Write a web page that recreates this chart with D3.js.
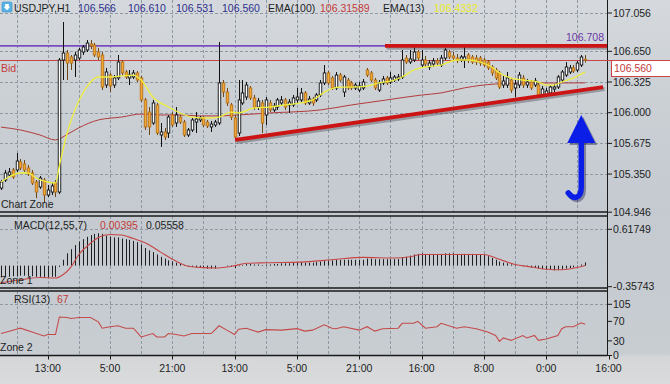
<!DOCTYPE html>
<html><head><meta charset="utf-8">
<script src="https://cdn.jsdelivr.net/npm/d3@7/dist/d3.min.js"></script>
<style>
html,body{margin:0;padding:0;width:670px;height:384px;overflow:hidden;background:#cfd3d7;}
svg{display:block;}
text{font-family:"Liberation Sans",Arial,sans-serif;font-size:10.5px;}
</style></head><body>
<svg id="c" width="670" height="384"></svg>
<script>
// ---------------- DATA ----------------
const opens = [
105.202,105.287,105.340,105.393,105.393,105.478,105.457,105.414,105.361,105.266,
105.213,105.287,105.128,105.160,105.255,105.160,106.558,106.632,106.590,106.558,
106.579,106.643,106.664,106.728,106.717,106.643,106.611,106.293,106.399,106.293,
106.368,106.537,106.431,106.368,106.378,106.421,106.368,106.135,106.007,105.891,
106.082,105.764,105.796,105.785,105.976,105.891,105.954,105.901,105.764,105.817,
105.901,105.923,105.944,105.901,105.849,105.870,105.891,106.315,106.219,106.082,
105.944,105.785,106.103,106.166,106.262,106.156,106.060,106.103,105.976,106.103,
106.029,106.060,106.103,106.135,106.082,106.082,106.135,106.135,106.209,106.103,
106.145,106.135,106.188,106.315,106.421,106.368,106.262,106.399,106.219,106.346,
106.315,106.262,106.240,106.262,106.452,106.421,106.346,106.240,106.315,106.368,
106.325,106.346,106.357,106.378,106.579,106.537,106.558,106.643,106.505,106.558,
106.484,106.516,106.548,106.505,106.579,106.643,106.601,106.579,106.558,106.558,
106.611,106.590,106.579,106.579,106.558,106.537,106.484,106.452,106.421,106.293,
106.293,106.346,106.262,106.293,106.368,106.293,106.325,106.293,106.293,106.188,
106.188,106.209,106.251,106.272,106.346,106.399,106.431,106.474,106.452,106.505,
106.566];
const highs = [
105.287,105.393,105.414,105.414,105.573,105.510,105.499,105.446,105.393,105.287,
105.329,105.308,105.234,105.266,105.287,106.579,106.961,106.664,106.611,106.643,
106.685,106.717,106.770,106.770,106.738,106.685,106.643,106.474,106.421,106.399,
106.611,106.558,106.452,106.452,106.452,106.442,106.389,106.156,106.060,106.135,
106.103,105.891,105.838,105.976,106.007,106.060,105.976,105.923,105.838,105.944,
106.007,105.965,105.965,105.923,105.912,105.923,106.749,106.346,106.262,106.103,
105.976,106.346,106.346,106.325,106.283,106.188,106.156,106.135,106.166,106.135,
106.103,106.156,106.177,106.156,106.145,106.188,106.262,106.262,106.230,106.177,
106.166,106.209,106.346,106.505,106.442,106.389,106.431,106.421,106.399,106.368,
106.336,106.315,106.325,106.357,106.474,106.442,106.368,106.346,106.389,106.389,
106.431,106.399,106.410,106.664,106.611,106.664,106.696,106.664,106.664,106.601,
106.558,106.579,106.579,106.611,106.685,106.664,106.643,106.622,106.611,106.728,
106.632,106.611,106.611,106.601,106.579,106.558,106.505,106.474,106.442,106.389,
106.431,106.368,106.346,106.431,106.399,106.357,106.346,106.368,106.315,106.283,
106.262,106.293,106.304,106.399,106.452,106.537,106.505,106.505,106.548,106.611,
106.610];
const lows = [
105.181,105.266,105.319,105.298,105.372,105.393,105.372,105.329,105.234,105.096,
105.192,105.043,105.107,105.128,105.107,105.139,106.346,106.346,106.452,106.378,
106.558,106.611,106.643,106.675,106.590,106.558,106.240,106.262,106.219,106.262,
106.346,106.399,106.357,106.293,106.357,106.325,106.113,105.817,105.764,105.870,
105.764,105.637,105.711,105.732,105.849,105.849,105.880,105.743,105.743,105.796,
105.785,105.901,105.849,105.838,105.796,105.849,105.870,106.166,106.071,105.923,
105.711,105.753,106.082,106.135,106.135,106.029,106.029,105.785,105.870,106.007,
106.007,106.029,106.071,106.029,105.997,106.060,106.103,106.113,106.082,106.082,
106.071,106.113,106.166,106.293,106.293,106.240,106.240,106.325,106.166,106.240,
106.240,106.240,106.219,106.240,106.378,106.325,106.240,106.219,106.293,106.293,
106.304,106.325,106.336,106.357,106.516,106.516,106.537,106.558,106.484,106.484,
106.452,106.484,106.495,106.484,106.558,106.569,106.548,106.526,106.537,106.474,
106.526,106.516,106.505,106.495,106.484,106.452,106.389,106.346,106.251,106.262,
106.262,106.209,106.166,106.262,106.262,106.262,106.240,106.272,106.166,106.166,
106.166,106.188,106.219,106.251,106.325,106.378,106.410,106.421,106.431,106.484,
106.531];
const closes = [
105.266,105.361,105.372,105.319,105.488,105.414,105.393,105.351,105.255,105.160,
105.308,105.128,105.181,105.224,105.160,106.558,106.632,106.526,106.526,106.611,
106.664,106.696,106.738,106.707,106.611,106.590,106.272,106.431,106.283,106.368,
106.537,106.421,106.378,106.399,106.421,106.346,106.135,105.849,105.849,106.103,
105.785,105.796,105.743,105.954,105.870,105.976,105.901,105.764,105.817,105.923,
105.933,105.944,105.870,105.859,105.880,105.901,106.315,106.219,106.103,105.954,
105.743,106.135,106.209,106.293,106.156,106.060,106.124,105.891,106.135,106.029,
106.071,106.135,106.135,106.060,106.113,106.156,106.166,106.209,106.103,106.145,
106.103,106.188,106.315,106.421,106.315,106.262,106.399,106.346,106.378,106.262,
106.262,106.293,106.283,106.325,106.399,106.346,106.262,106.315,106.357,106.315,
106.368,106.378,106.378,106.558,106.537,106.569,106.643,106.579,106.558,106.516,
106.526,106.548,106.526,106.579,106.664,106.590,106.579,106.558,106.590,106.590,
106.558,106.537,106.537,106.526,106.505,106.474,106.421,106.368,106.272,106.336,
106.368,106.240,106.304,106.399,106.293,106.325,106.262,106.336,106.188,106.251,
106.230,106.272,106.272,106.378,106.431,106.484,106.474,106.442,106.526,106.590,
106.560];

const ema13Bars = [0,2,5,7,9,12,14,15,17,19,22,25,28,31,34,36,39,43,46,49,53,56,59,61,65,69,73,77,80,84,87,90,94,97,101,103,106,109,113,117,120,123,126,128,131,134,138,140,142,144,147,150];
const ema13Vals = [105.266,105.319,105.361,105.361,105.308,105.266,105.255,105.440,105.785,106.030,106.271,106.378,106.378,106.389,106.399,106.346,106.166,106.060,105.997,105.954,105.944,105.954,106.007,105.997,106.050,106.060,106.082,106.103,106.135,106.240,106.271,106.271,106.282,106.315,106.346,106.378,106.452,106.484,106.505,106.558,106.558,106.537,106.484,106.420,106.367,106.346,106.325,106.293,106.293,106.325,106.367,106.433];

const ema100Bars = [0,5,10,14,17,20,25,31,36,41,46,51,56,61,69,82,90,99,108,113,119,127,136,144,150];
const ema100Vals = [105.847,105.817,105.764,105.711,105.770,105.840,105.923,105.954,105.986,105.976,105.976,105.966,105.966,105.976,105.997,106.029,106.082,106.135,106.187,106.209,106.263,106.304,106.315,106.315,106.316];

const macdHist = [
-0.20,-0.19,-0.19,-0.18,-0.18,-0.17,-0.17,-0.18,-0.18,-0.19,
-0.19,-0.20,-0.20,-0.19,-0.19,-0.02,0.10,0.21,0.28,0.35,
0.41,0.45,0.49,0.52,0.54,0.55,0.54,0.51,0.49,0.48,
0.48,0.46,0.45,0.44,0.42,0.40,0.36,0.30,0.26,0.23,
0.19,0.15,0.12,0.09,0.07,0.05,0.03,0.01,-0.01,-0.02,
-0.03,-0.03,-0.04,-0.05,-0.05,-0.05,0.00,0.00,-0.01,-0.02,
-0.04,-0.01,0.01,0.03,0.03,0.02,0.02,0.01,0.02,0.02,
0.03,0.03,0.04,0.04,0.04,0.05,0.05,0.06,0.05,0.05,
0.05,0.06,0.07,0.09,0.09,0.09,0.10,0.10,0.10,0.10,
0.10,0.10,0.10,0.10,0.12,0.12,0.11,0.11,0.11,0.11,
0.11,0.11,0.11,0.14,0.15,0.17,0.19,0.20,0.21,0.20,
0.20,0.20,0.20,0.20,0.21,0.21,0.21,0.20,0.20,0.20,
0.20,0.20,0.19,0.19,0.18,0.16,0.13,0.10,0.07,0.05,
0.04,0.02,0.01,0.00,-0.01,-0.02,-0.03,-0.04,-0.05,-0.06,
-0.07,-0.07,-0.08,-0.07,-0.06,-0.05,-0.04,-0.03,-0.01,0.02,
0.056];
const signalBars = [0,5,10,14,16,18,20,23,25,28,31,34,37,41,44,48,51,55,60,63,68,77,85,93,101,105,108,116,124,127,132,136,140,144,148,150];
const signalVals = [-0.29,-0.24,-0.20,-0.21,-0.15,-0.02,0.19,0.38,0.48,0.53,0.52,0.46,0.39,0.23,0.11,-0.01,-0.03,-0.04,0.00,0.04,0.05,0.06,0.10,0.14,0.13,0.15,0.19,0.19,0.19,0.13,0.02,-0.02,-0.06,-0.07,-0.03,0.004];

const rsiBars = [0,1,4,5,8,11,12,14,15,17,18,20,23,25,26,28,30,32,34,36,39,40,42,43,45,47,49,54,56,58,60,61,63,66,68,72,76,78,80,83,85,86,88,92,94,96,98,102,103,106,107,109,112,113,117,119,122,125,127,128,129,131,134,135,137,138,140,143,144,145,147,149,150];
const rsiVals = [45,47,54,56,48,40,43,43,79,78,76,78,78,69,56,59,61,56,56,38,45,38,38,45,43,40,45,45,61,52,43,54,56,48,53,52,55,50,52,63,56,55,59,52,59,50,55,56,66,66,70,56,59,66,56,59,55,48,41,29,36,31,41,36,41,31,34,41,55,59,59,67,64];

const timeTickBars = [12,28,44,60,76,92,108,124,140,156];
const timeTickLabels = ["13:00","5:00","21:00","13:00","5:00","21:00","16:00","8:00","0:00","16:00"];
const priceTicks = [107.056,106.650,106.325,106.000,105.675,105.350,104.946];
const macdTicks = [0.61749,-0.35743];
const rsiTicks = [105,70,30,0];

const bidPrice = 106.560;
const levelPrice = 106.708;
const resistanceBars = [98.6,156];
const supportPts = [[60.1,105.711],[154.6,106.272]];
const arrowTip = [149,105.976];

const headerItems = [
 ["USDJPY,H1","#1e1e1e",14],["106.566","#2d2f8c",78],["106.610","#2d2f8c",128],["106.531","#2d2f8c",176],["106.560","#2d2f8c",222],
 ["EMA(100)","#1e1e1e",268],["106.31589","#c43a3a",320],["EMA(13)","#1e1e1e",383],["106.4332","#eaea1c",434]];

// ---------------- DRAW ----------------
const svg = d3.select("#c");
const defs = svg.append("defs");
const g0 = defs.append("linearGradient").attr("id","bg").attr("x1",0).attr("y1",0).attr("x2",0).attr("y2",1);
[[0,"#d5d9dd"],[0.25,"#cbd0d5"],[0.55,"#c4cad0"],[0.92,"#c8cdd2"],[0.93,"#d4d6d8"],[1,"#d9dbdc"]]
  .forEach(s=>g0.append("stop").attr("offset",s[0]).attr("stop-color",s[1]));
svg.append("rect").attr("width",670).attr("height",384).attr("fill","url(#bg)");

defs.append("clipPath").attr("id","mainClip").append("rect").attr("x",0).attr("y",0).attr("width",607).attr("height",212);

const AX = 607;
const xS = d3.scaleLinear().domain([0,156]).range([0.97,608.5]);
const yP = d3.scaleLinear().domain([104.946,107.056]).range([212.2,13.0]);
const yM = d3.scaleLinear().domain([-0.35743,0.61749]).range([286.7,229.3]);
const yR = d3.scaleLinear().domain([0,105]).range([355.5,304.3]);
const cx = i => Math.round(xS(i)) + 0.5;

const panels = [{t:0,b:212},{t:216,b:288},{t:291,b:355.5}];
const gridCol = "#8e99a4";
const grid = svg.append("g").attr("stroke",gridCol).attr("stroke-width",1).attr("stroke-dasharray","3,2");
const gridBars = d3.range(4,156,8);
panels.forEach(p=>{
  grid.selectAll(null).data(gridBars).enter().append("line")
   .attr("x1",d=>cx(d)).attr("x2",d=>cx(d)).attr("y1",p.t).attr("y2",p.b);
});
grid.selectAll(null).data(priceTicks.slice(0,6)).enter().append("line")
  .attr("x1",0).attr("x2",AX).attr("y1",d=>Math.round(yP(d))+0.5).attr("y2",d=>Math.round(yP(d))+0.5);
grid.append("line").attr("x1",0).attr("x2",AX).attr("y1",Math.round(yM(macdTicks[0]))+0.5).attr("y2",Math.round(yM(macdTicks[0]))+0.5);
grid.append("line").attr("x1",0).attr("x2",AX).attr("y1",Math.round(yR(105))+0.5).attr("y2",Math.round(yR(105))+0.5);

// main panel content
const main = svg.append("g").attr("clip-path","url(#mainClip)");
main.append("line").attr("x1",0).attr("x2",AX).attr("y1",yP(levelPrice)).attr("y2",yP(levelPrice))
  .attr("stroke","#7a4cc0").attr("stroke-width",1.6);
main.append("line").attr("x1",0).attr("x2",AX).attr("y1",Math.round(yP(bidPrice))+0.5).attr("y2",Math.round(yP(bidPrice))+0.5)
  .attr("stroke","#c94444").attr("stroke-width",1);

const lineGen = (ys)=> d3.line().x(d=>xS(d[0])).y(d=>ys(d[1])).curve(d3.curveMonotoneX);
main.append("path").datum(ema100Bars.map((b,i)=>[b,ema100Vals[i]])).attr("d",lineGen(yP))
  .attr("fill","none").attr("stroke","#b23c3c").attr("stroke-width",1);

const bars = d3.range(opens.length);
const cg = main.append("g");
cg.selectAll("line.w").data(bars).enter().append("line")
  .attr("x1",cx).attr("x2",cx).attr("y1",i=>yP(highs[i])).attr("y2",i=>yP(lows[i]))
  .attr("stroke",i=>closes[i]>=opens[i]?"#111":"#6e4614").attr("stroke-width",1);
cg.selectAll("rect").data(bars).enter().append("rect")
  .attr("x",i=>cx(i)-1.25).attr("width",2.5)
  .attr("y",i=>yP(Math.max(opens[i],closes[i])))
  .attr("height",i=>Math.max(1,Math.abs(yP(opens[i])-yP(closes[i]))))
  .attr("fill",i=>closes[i]>=opens[i]?"#ffffff":"#f2a733")
  .attr("stroke",i=>closes[i]>=opens[i]?"#111":"#b8731a").attr("stroke-width",0.9);

main.append("path").datum(ema13Bars.map((b,i)=>[b,ema13Vals[i]])).attr("d",lineGen(yP))
  .attr("fill","none").attr("stroke","#eeee3c").attr("stroke-width",1.3);

// annotations: trend lines with shadow
const annot = main.append("g");
const thick = (x1,y1,x2,y2)=>{
  annot.append("line").attr("x1",x1+1.5).attr("y1",y1+2).attr("x2",x2+1.5).attr("y2",y2+2)
    .attr("stroke","rgba(50,50,60,0.35)").attr("stroke-width",4);
  annot.append("line").attr("x1",x1).attr("y1",y1).attr("x2",x2).attr("y2",y2)
    .attr("stroke","#cc1414").attr("stroke-width",3.8);
};
thick(xS(resistanceBars[0]),yP(levelPrice),xS(resistanceBars[1]),yP(levelPrice));
thick(xS(supportPts[0][0]),yP(supportPts[0][1]),xS(supportPts[1][0]),yP(supportPts[1][1]));

// blue arrow
const tx = xS(arrowTip[0]), ty = yP(arrowTip[1]);
const shaft = `M${tx},${ty+26} L${tx},${ty+72} C${tx},${ty+84} ${tx-8},${ty+85} ${tx-13},${ty+78}`;
const head = `M${tx},${ty} L${tx-14},${ty+28} L${tx+14},${ty+28} Z`;
[[2,2,"rgba(20,20,70,0.4)"],[0,0,"#0a1ee8"]].forEach(s=>{
  const a = annot.append("g").attr("transform",`translate(${s[0]},${s[1]})`);
  a.append("path").attr("d",shaft).attr("fill","none").attr("stroke",s[2]).attr("stroke-width",5.5).attr("stroke-linecap","round");
  a.append("path").attr("d",head).attr("fill",s[2]);
});

// level label
svg.append("text").attr("x",604).attr("y",41).attr("text-anchor","end").attr("fill","#6a36a6").text(levelPrice.toFixed(3));
svg.append("text").attr("x",1).attr("y",72).attr("fill","#c43a3a").text("Bid");
svg.append("text").attr("x",1).attr("y",208).attr("fill","#1e1e1e").text("Chart Zone");

// MACD panel
const mg = svg.append("g");
mg.selectAll("line").data(bars).enter().append("line")
  .attr("x1",cx).attr("x2",cx).attr("y1",yM(0)).attr("y2",i=>yM(macdHist[i]))
  .attr("stroke","#1e1e1e").attr("stroke-width",1);
mg.append("path").datum(signalBars.map((b,i)=>[b,signalVals[i]])).attr("d",lineGen(yM))
  .attr("fill","none").attr("stroke","#c84646").attr("stroke-width",1.1);

// RSI panel
svg.append("path").datum(rsiBars.map((b,i)=>[b,rsiVals[i]]))
  .attr("d",d3.line().x(d=>xS(d[0])).y(d=>yR(d[1])))
  .attr("fill","none").attr("stroke","#c44a4a").attr("stroke-width",1.1);

// panel frames & right axis
const fr = svg.append("g").attr("stroke","#1a1a1a");
[212,216,288,291,355.5].forEach(y=>fr.append("line").attr("x1",0).attr("x2",AX).attr("y1",y).attr("y2",y).attr("stroke-width",1.6));
fr.append("line").attr("x1",AX+0.5).attr("x2",AX+0.5).attr("y1",0).attr("y2",356).attr("stroke-width",1);

// right axes
const axText = (vals, sc, fmt)=>{
  vals.forEach(v=>{
    const y = sc(v);
    svg.append("line").attr("x1",AX).attr("x2",AX+5).attr("y1",y).attr("y2",y).attr("stroke","#1a1a1a");
    svg.append("text").attr("x",AX+6).attr("y",y).attr("dy","0.36em").attr("fill","#1e1e1e").text(fmt(v));
  });
};
axText(priceTicks, yP, d=>d.toFixed(3));
axText(macdTicks, yM, d=>d.toFixed(5));
axText(rsiTicks, yR, d=>String(d));

// bid box
const by = Math.round(yP(bidPrice))+0.5;
svg.append("line").attr("x1",AX).attr("x2",611).attr("y1",by).attr("y2",by).attr("stroke","#c94444");
svg.append("rect").attr("x",611.5).attr("y",by).attr("width",60).attr("height",16).attr("fill","#ffffff").attr("stroke","#c94444");
svg.append("text").attr("x",614).attr("y",by+8).attr("dy","0.36em").attr("fill","#c43a3a").text(bidPrice.toFixed(3));

// time axis
timeTickBars.forEach((b,i)=>{
  svg.append("line").attr("x1",cx(b)).attr("x2",cx(b)).attr("y1",355.5).attr("y2",359.5).attr("stroke","#1a1a1a");
  svg.append("text").attr("x",xS(b)).attr("y",372).attr("text-anchor","middle").attr("fill","#1e1e1e").text(timeTickLabels[i]);
});

// header
const ic = svg.append("g");
ic.append("rect").attr("x",2).attr("y",2).attr("width",10).attr("height",10).attr("rx",1.5).attr("fill","#59b2e6").attr("stroke","#3a8cc4").attr("stroke-width",0.6);
ic.append("path").attr("d","M5.2,4 L8.8,4 L8.8,6.8 L10.3,6.8 L7,10.3 L3.7,6.8 L5.2,6.8 Z").attr("fill","#ffffff");
headerItems.forEach(h=>svg.append("text").attr("x",h[2]).attr("y",11.5).attr("fill",h[1]).text(h[0]));

svg.append("text").attr("x",14).attr("y",229).attr("fill","#1e1e1e").text("MACD(12,55,7)");
svg.append("text").attr("x",100).attr("y",229).attr("fill","#c43a3a").text("0.00395");
svg.append("text").attr("x",146).attr("y",229).attr("fill","#1e1e1e").text("0.05558");
svg.append("text").attr("x",0).attr("y",283.5).attr("fill","#1e1e1e").text("Zone 1");
svg.append("text").attr("x",14).attr("y",303).attr("fill","#1e1e1e").text("RSI(13)");
svg.append("text").attr("x",57).attr("y",303).attr("fill","#c43a3a").text("67");
svg.append("text").attr("x",0).attr("y",350.5).attr("fill","#1e1e1e").text("Zone 2");
</script>
</body></html>
